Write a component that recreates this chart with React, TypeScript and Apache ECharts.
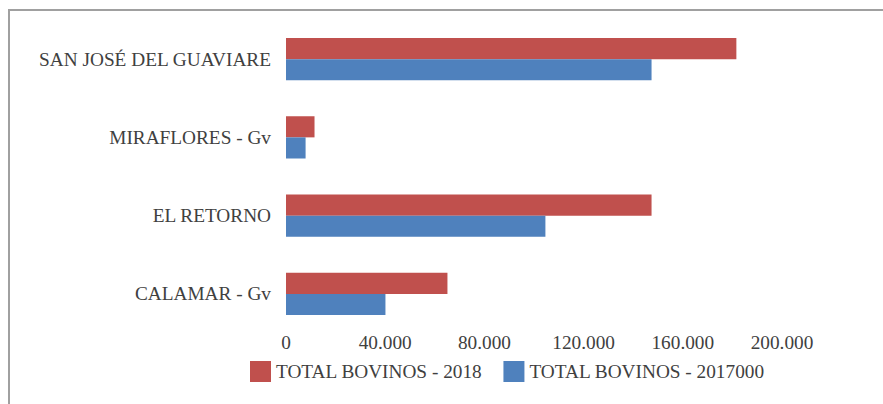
import React, { useEffect, useRef } from "react";
import * as echarts from "echarts";

const categories = ["CALAMAR - Gv", "EL RETORNO", "MIRAFLORES - Gv", "SAN JOSÉ DEL GUAVIARE"];
const series2018 = [65100, 147400, 11500, 181600];
const series2017 = [40100, 104600, 7900, 147400];
const seriesNames = ["TOTAL BOVINOS - 2018", "TOTAL BOVINOS - 2017000"];

const FONT = "Liberation Serif";
const TEXT = "#404040";
const FS = 19.3;

export default function App() {
  const ref = useRef<HTMLDivElement>(null);
  useEffect(() => {
    const chart = echarts.init(ref.current!, null, { renderer: "svg" });
    chart.setOption({
      animation: false,
      backgroundColor: "#ffffff",
      textStyle: { fontFamily: FONT },
      graphic: [
        {
          type: "rect",
          shape: { x: 9, y: 10, width: 1000, height: 600 },
          style: { fill: "none", stroke: "#a0a0a0", lineWidth: 2 },
          silent: true,
        },
      ],
      grid: { left: 286, right: 101, top: 20, bottom: 71, containLabel: false },
      legend: {
        left: 245,
        top: 356,
        icon: "rect",
        itemWidth: 21,
        itemHeight: 21,
        itemGap: 21,
        textStyle: { fontFamily: FONT, fontSize: FS, color: TEXT },
        data: seriesNames,
      },
      xAxis: {
        type: "value",
        min: 0,
        max: 200000,
        interval: 40000,
        axisLine: { show: false },
        axisTick: { show: false },
        splitLine: { show: false },
        axisLabel: {
          fontFamily: FONT,
          fontSize: FS,
          color: TEXT,
          margin: 0,
          formatter: (v: number) => (v === 0 ? "0" : (v / 1000).toFixed(0) + ".000"),
        },
      },
      yAxis: {
        type: "category",
        data: categories,
        axisLine: { show: false },
        axisTick: { show: false },
        splitLine: { show: false },
        axisLabel: { fontFamily: FONT, fontSize: FS, color: TEXT, margin: 15 },
      },
      series: [
        {
          name: seriesNames[0],
          type: "bar",
          data: series2018,
          itemStyle: { color: "#C0504D" },
          barGap: "0%",
          barCategoryGap: "46%",
        },
        {
          name: seriesNames[1],
          type: "bar",
          data: series2017,
          itemStyle: { color: "#4F81BD" },
          barGap: "0%",
          barCategoryGap: "46%",
        },
      ],
    });
    return () => chart.dispose();
  }, []);
  return (
    <div
      ref={ref}
      style={{ position: "fixed", left: 0, top: 0, width: 883, height: 404 }}
    />
  );
}
